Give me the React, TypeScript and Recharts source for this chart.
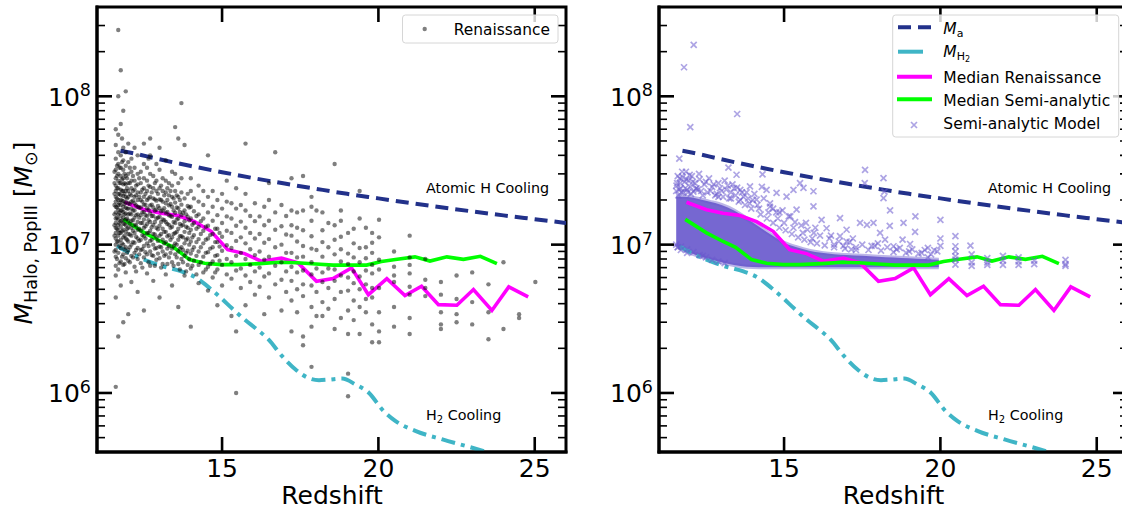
import React from "react";
import { ComposedChart, XAxis, YAxis, Scatter, Line, Area, ReferenceArea } from "recharts";

const FONT = "'DejaVu Sans', sans-serif";

const X_TICKS = [15, 20, 25];
const Y_MAJOR = [1e6, 1e7, 1e8];
const Y_MINOR = [5e5, 6e5, 7e5, 8e5, 9e5, 2e6, 3e6, 4e6, 5e6, 6e6, 7e6, 8e6, 9e6, 2e7, 3e7, 4e7, 5e7, 6e7, 7e7, 8e7, 9e7, 2e8, 3e8];

// plot box size (same in both panels)
const PLOT_TOP = 7;
const PLOT_W = 469;

// atomic cooling threshold M_a
const maZ = [11.75, 12, 13, 14, 15, 16, 17, 18, 19, 20, 21, 22, 23, 24, 25, 26];
const maMass = [4.3e7, 4.2e7, 3.76e7, 3.39e7, 3.08e7, 2.81e7, 2.58e7, 2.38e7, 2.2e7, 2.05e7, 1.91e7, 1.785e7, 1.675e7, 1.575e7, 1.485e7, 1.4e7];

// H2 cooling threshold
const mh2Z = [11.64, 12.0, 12.4, 13.1, 13.7, 14.1, 14.6, 15.0, 15.3, 15.74, 16.1, 16.49, 16.92, 17.35, 17.77, 18.1, 18.41, 18.84, 19.27, 19.7, 20.13, 20.55, 21.2, 22.05, 23.0, 24.0];
const mh2Mass = [9.8e6, 8.9e6, 8.1e6, 7.15e6, 6.6e6, 6.1e6, 5.1e6, 4.3e6, 3.75e6, 3.1e6, 2.7e6, 2.29e6, 1.77e6, 1.44e6, 1.26e6, 1.22e6, 1.23e6, 1.25e6, 1.14e6, 1.0e6, 7.7e5, 6.46e5, 5.53e5, 4.86e5, 4.27e5, 3.7e5];

const medRenZ = [11.88, 12.52, 13.05, 13.59, 14.12, 14.65, 15.18, 15.72, 16.25, 16.9, 17.43, 18.02, 18.55, 19.14, 19.68, 20.27, 20.85, 21.38, 21.92, 22.51, 23.04, 23.63, 24.17, 24.79];
const medRenMass = [1.93e7, 1.72e7, 1.63e7, 1.57e7, 1.43e7, 1.23e7, 9.25e6, 8.7e6, 7.73e6, 8.13e6, 7.53e6, 5.66e6, 5.9e6, 6.97e6, 4.6e6, 5.9e6, 4.54e6, 5.24e6, 3.94e6, 3.9e6, 4.98e6, 3.6e6, 5.19e6, 4.45e6];

const medSaZ = [11.84, 12.52, 13.05, 13.45, 13.96, 14.44, 14.97, 15.5, 16.2, 16.84, 17.4, 18.0, 18.55, 19.62, 20.1, 20.6, 21.17, 21.65, 22.19, 22.72, 23.26, 23.79];
const medSaMass = [1.48e7, 1.2e7, 1.05e7, 9.6e6, 7.93e6, 7.5e6, 7.33e6, 7.33e6, 7.45e6, 7.6e6, 7.55e6, 7.4e6, 7.28e6, 7.28e6, 7.7e6, 7.96e6, 8.27e6, 7.75e6, 8.27e6, 7.96e6, 8.35e6, 7.45e6];

// Renaissance halos, per snapshot redshift, masses in 1e6 Msun
const renZ = [
  11.6, 11.68, 11.76, 11.84, 11.92, 12.0, 12.1, 12.2, 12.3, 12.4, 12.5, 12.6, 12.7, 12.8, 12.9, 13.0, 13.1, 13.2, 13.3, 13.4,
  13.5, 13.6, 13.7, 13.8, 13.9, 14.0, 14.1, 14.25, 14.4, 14.55, 14.7, 14.85, 15.0, 15.15, 15.3, 15.45, 15.6, 15.75, 15.9, 16.05,
  16.2, 16.35, 16.5, 16.7, 16.9, 17.05, 17.22, 17.4, 17.59, 17.86, 18.02, 18.21, 18.4, 18.6, 18.8, 19.03, 19.21, 19.4, 19.6, 19.8,
  20.02, 20.5, 21.0, 21.5, 22.0, 22.5, 23.0, 23.52, 24.0, 24.5, 25.02,
];
const renMass = [
  [1.1, 4.4, 6.2, 7.2, 8.3, 9.2, 10, 11, 12, 13, 14, 15, 16.5, 18, 19.5, 21, 23, 25, 28, 32, 38, 47, 60],
  [2.4, 6.8, 8.8, 10.5, 11.5, 12.5, 13.6, 14.8, 16, 17.2, 18.5, 20, 22, 24, 27, 30, 35, 42, 55, 100, 280],
  [5.3, 7.7, 9.5, 10.8, 12, 13.2, 14.4, 15.6, 17, 18.5, 20, 21.5, 23.5, 26, 29, 33, 40, 65, 150],
  [3.0, 7.3, 8.6, 10, 11.2, 12.6, 13.9, 15.2, 16.6, 18, 19.6, 21.3, 23, 25.5, 28, 32, 37, 45, 80],
  [6.5, 8.1, 9.6, 11, 12.2, 13.5, 14.8, 16.2, 17.7, 19.3, 21, 23, 25.5, 29, 34, 42, 108],
  [3.4, 7.8, 9.2, 10.5, 11.8, 13, 14.5, 16, 17.5, 19, 21, 23, 26, 30, 36, 48],
  [5.6, 8.4, 10, 11.5, 13, 14.5, 16, 17.5, 19.5, 21.5, 24, 27, 31, 38],
  [7.1, 8.8, 10.3, 12, 13.6, 15.2, 17, 19, 21, 23.5, 27, 33, 45],
  [4.8, 8, 9.5, 11, 12.6, 14.2, 16, 18, 20, 22.5, 25.5, 30, 40],
  [7.5, 9.2, 10.8, 12.4, 14, 15.8, 17.8, 20, 22.5, 26, 31],
  [3.6, 8.2, 9.8, 11.4, 13, 14.8, 16.6, 18.6, 21, 24, 28, 35, 48],
  [6.4, 8.6, 10.2, 12, 13.8, 15.6, 17.6, 20, 23, 27, 33],
  [7.2, 9, 10.6, 12.4, 14.2, 16.2, 18.4, 21, 24.5, 30, 40, 52],
  [5.7, 8.4, 10, 11.8, 13.6, 15.6, 17.8, 20.5, 24, 29],
  [7.9, 9.5, 11.2, 13, 15, 17.2, 19.8, 23, 27, 35],
  [4.4, 8.1, 9.7, 11.5, 13.4, 15.4, 17.6, 20.2, 24, 32, 45],
  [7.4, 9, 10.8, 12.8, 14.8, 17, 19.5, 23, 28],
  [6.3, 8.6, 10.4, 12.2, 14.2, 16.4, 19, 22.5, 27, 37],
  [8.2, 9.8, 11.6, 13.6, 15.8, 18.4, 21.5, 26],
  [5.3, 7.6, 9.4, 11.2, 13.2, 15.4, 18, 21, 25, 31],
  [8.6, 10.2, 12, 14, 16.4, 19.2, 23, 30, 62],
  [3.8, 7.4, 9, 10.8, 12.8, 15, 17.6, 21, 26, 52],
  [8, 9.6, 11.4, 13.4, 15.8, 18.6, 22.5, 28, 90],
  [6.2, 8.4, 10.2, 12.2, 14.4, 17, 20.5, 47],
  [7.3, 9.1, 11, 13, 15.4, 18.2, 22],
  [2.8, 6.9, 8.7, 10.5, 12.6, 15, 18, 23, 28],
  [7.8, 9.6, 11.6, 14, 16.8, 20.5],
  [5.5, 7.3, 9, 10.9, 13.2, 16, 19.5, 25],
  [6.5, 8.3, 10.2, 12.4, 15, 18.5, 23],
  [4.9, 7.1, 8.9, 11, 13.4, 16.5, 21, 40],
  [6, 7.7, 9.6, 11.8, 14.5, 18, 23],
  [3.9, 6.8, 8.5, 10.4, 12.8, 15.8, 20],
  [5.3, 7.3, 9.1, 11.3, 14, 17.5, 22],
  [6.3, 8, 9.9, 12.4, 15.5, 19.5, 27],
  [3.3, 5.9, 7.6, 9.5, 12, 15, 19],
  [1.0, 2.6, 6.7, 8.4, 10.6, 13.4, 17.5, 24],
  [5.1, 6.9, 8.8, 11.2, 14.3, 18.5],
  [3.9, 6.2, 8, 10.2, 13, 17, 22, 48],
  [5.6, 7.3, 9.3, 12, 15.6],
  [4.6, 6.6, 8.5, 11, 14.4, 19],
  [5.2, 7, 9, 11.8, 15.5],
  [3.4, 6.1, 7.9, 10.3, 13.5, 18],
  [4.4, 6.4, 8.3, 10.9, 14.5, 20, 26],
  [5.4, 7.2, 9.6, 12.6, 16.5, 42],
  [3.6, 5.8, 7.6, 10, 13.3, 18.5],
  [4.8, 6.6, 8.8, 11.7, 15.6],
  [2.6, 4.2, 5.7, 7.1, 8.8, 11.5, 13.5, 17, 28],
  [3.5, 5, 6.5, 8.2, 10.5, 13, 16.5],
  [2.1, 2.4, 4.5, 5.4, 6.7, 8.3, 9.8, 12.5, 17, 29],
  [1.5, 2.8, 3.8, 5.3, 6.3, 7.6, 9.4, 11.4, 14.5, 18, 21],
  [3.3, 4.8, 6.9, 9.2, 17],
  [3.3, 4.1, 5.6, 6.5, 8.3, 10.4, 12.5, 16.5],
  [3.7, 5.1, 6.9, 9.6, 14],
  [2.7, 4.3, 5.7, 6.8, 8.6, 10.8, 13.5, 35],
  [3.2, 4.8, 6.2, 7.7, 9.3, 11.3, 14.5, 17],
  [0.95, 1.35, 2.5, 3.6, 4.9, 6, 7.4, 8.7, 12],
  [3.1, 4.2, 5.5, 6.6, 8.2, 10.2, 12.8],
  [2.5, 3.8, 5, 6.1, 7.6, 9.5, 15, 23],
  [3.5, 4.3, 5.4, 6.7, 8.1, 9.6, 13],
  [2.2, 2.9, 4.4, 5.1, 6.4, 7.3, 8.8, 10.3, 12],
  [2.2, 2.6, 3.5, 5.1, 6.8, 7.9, 11.2, 14.7],
  [2.8, 3.8, 5.6, 6.2, 7.1, 9],
  [2.5, 3.2, 4.6, 5.2, 6.4, 7.3, 8.2, 11.5],
  [4.5, 5.1, 5.8, 8],
  [2.7, 2.9, 3.5, 4.6, 5.6],
  [3, 3.4, 4.3, 6.2],
  [2.9, 4.1, 6.5],
  [2.3, 3.5, 5.4],
  [2.7, 7.6],
  [3.2, 3.4],
  [5.6],
];

// extra Renaissance snapshots in the crowded low-redshift part (1e6 Msun)
const renZLow = [
  11.56, 11.64, 11.72, 11.8, 11.88, 11.96, 12.05, 12.15, 12.25, 12.35, 12.45, 12.55, 12.65, 12.75, 12.85, 12.95, 13.05,
  13.15, 13.25, 13.35, 13.45, 13.55, 13.65, 13.75, 13.85, 13.95, 14.05, 14.18, 14.32, 14.48, 14.62, 14.78, 14.92,
];
const renMassLow = [
  [9, 11.5, 13.5, 16, 18.5, 22, 26, 31],
  [8, 10.5, 12.8, 15.2, 17.8, 20.5, 24, 29, 34],
  [7.5, 9.8, 12, 14, 16.4, 19, 22, 26, 33],
  [8.3, 10.2, 12.3, 14.6, 17, 19.8, 23, 27.5, 36, 52],
  [7.4, 9.3, 11.5, 13.8, 16, 18.8, 22, 26, 30],
  [8.8, 10.8, 12.8, 15, 17.5, 20.5, 24, 28],
  [7.6, 9.6, 11.7, 13.8, 16.2, 18.8, 22, 26, 33],
  [8.2, 10.4, 12.4, 14.6, 17, 19.8, 23, 29],
  [6.6, 9.2, 11.3, 13.4, 15.8, 18.4, 21.5, 25],
  [8.6, 10.6, 12.8, 15.2, 17.8, 21, 28],
  [7, 9.3, 11.6, 14, 16.5, 19.5, 23.5],
  [8.9, 11, 13.3, 15.8, 18.6, 22],
  [7.6, 9.8, 12, 14.6, 17.2, 20.5, 25, 38],
  [8.5, 10.8, 13.1, 15.6, 18.6, 22.5],
  [7.2, 9.4, 11.7, 14.2, 17, 20.2, 26],
  [8.7, 10.6, 12.7, 15.2, 18.2, 22],
  [7, 9.6, 11.8, 14.2, 16.8, 20, 25],
  [8.4, 10.2, 12.2, 14.6, 17.6, 21.5],
  [7.4, 9.4, 11.4, 13.8, 16.6, 20, 24],
  [8.8, 10.8, 13, 15.6, 18.8, 23],
  [7.2, 9.8, 11.8, 14.2, 17, 20.5],
  [8.2, 10, 12.2, 14.8, 17.8, 21.5],
  [6.8, 9.4, 11.4, 13.8, 16.6, 20],
  [7.6, 9.2, 11.2, 13.6, 16.4],
  [6.6, 8.8, 10.8, 13.2, 16],
  [8, 10, 12, 14.6, 17.8],
  [7.2, 9.2, 11.2, 13.6],
  [6.3, 8.4, 10.4, 12.8, 15.6],
  [7.6, 9.6, 11.8, 14.4],
  [6.8, 8.8, 10.8, 13.2],
  [7.4, 9.4, 11.6],
  [6.5, 8.4, 10.4, 12.8],
  [7.8, 9.7, 12],
];

// semi-analytic model: dense core of the distribution (1e6 Msun)
const saCoreZ = [11.55, 11.8, 12.2, 12.6, 13.0, 13.4, 13.8, 14.2, 14.6, 15.0, 15.4, 15.8, 16.2, 16.6, 17.0, 17.5, 18.0, 18.5, 19.0, 19.5, 19.95];
const saCoreLow = [9.9, 9.2, 8.5, 8.0, 7.6, 7.3, 7.1, 7.05, 7.05, 7.05, 7.05, 7.05, 7.05, 7.05, 7.05, 7.05, 7.05, 7.05, 7.05, 7.05, 7.05];
const saCoreHigh = [21, 21, 20.5, 19.5, 18.5, 17, 15, 13.2, 11.6, 10.3, 9.6, 9.1, 8.8, 8.6, 8.5, 8.4, 8.3, 8.2, 8.1, 8.0, 7.9];

// semi-analytic model: individual halos outside the core (1e6 Msun)
const saZ = [
  11.8, 12.11, 13.5, 12.0, 11.65, 11.55, 11.58, 11.62, 11.66, 11.7, 11.74, 11.78, 11.82, 11.86, 11.9, 11.95, 12.0, 12.05, 12.1, 12.15,
  12.2, 12.3, 12.35, 12.45, 12.55, 12.6, 12.7, 12.8, 12.9, 13.0, 13.1, 13.2, 13.22, 13.3, 13.4, 13.48, 13.5, 13.6, 13.7, 13.8,
  13.91, 14.0, 14.12, 14.29, 14.31, 14.44, 14.55, 14.65, 14.76, 14.85, 15.08, 15.2, 15.3, 15.4, 15.51, 15.62, 15.7, 15.94, 15.94, 16.0,
  16.2, 16.36, 16.5, 16.79, 16.79, 17.0, 17.0, 17.2, 17.43, 17.58, 17.59, 17.65, 17.86, 18.07, 18.18, 18.18, 18.21, 18.23, 18.38, 18.39,
  18.5, 18.79, 18.82, 19.19, 19.2, 19.6, 19.6, 19.8, 20.0, 20.0, 20.0, 20.48, 20.48, 20.48, 20.48, 20.48, 20.48, 20.96, 21.0, 21.0,
  21.0, 21.5, 21.5, 21.5, 22.0, 22.0, 22.0, 22.5, 22.5, 22.5, 23.0, 23.0, 24.0, 24.0, 24.0, 16.6, 17.3, 17.8, 18.0, 18.6,
  19.0, 19.4, 19.03, 17.15, 16.9, 15.9, 15.6, 15.3, 15.0, 14.8, 14.5, 14.2, 13.9, 13.6, 13.3, 12.9, 11.6, 11.7, 11.9, 12.4,
  12.25, 12.4, 12.5, 12.65, 12.75, 12.85, 12.95, 13.05, 13.15, 13.25, 13.35, 13.45, 13.55, 13.65, 13.75, 13.85, 13.95, 14.05, 14.15, 14.25,
  14.35, 14.45, 14.55, 14.65, 14.75, 14.85, 14.95, 15.05, 15.15, 15.25, 15.35, 15.45, 15.55, 15.65, 15.75, 15.85, 15.95, 16.05, 16.15, 16.3,
  16.45, 16.6, 16.75, 16.95, 17.1, 17.3, 17.5, 17.7, 17.9, 18.1, 18.3, 18.5, 18.7, 18.9, 19.1, 19.3, 19.5, 19.7, 19.9, 11.56,
  11.6, 11.64, 11.68, 11.72, 11.76, 11.84, 11.88, 11.92, 11.98, 12.02, 12.08, 12.18, 12.28, 11.55, 11.6, 11.7, 11.9, 12.1, 12.3, 12.5,
  12.7, 12.9, 13.1,
];
const saMass = [
  157, 222, 76, 62, 38, 23, 26, 21.5, 28, 24, 31, 22.5, 26.5, 31, 23.5, 27, 24.5, 29, 22.8, 26,
  24, 27.5, 23, 25.5, 22.5, 28, 24.5, 21.5, 26, 23, 27, 25, 33, 22.5, 24, 29.6, 24.2, 23.4, 21, 22.5,
  24.7, 20, 20.1, 24.5, 29.8, 23.4, 19, 17.5, 22.3, 16.5, 21.1, 15.5, 23.4, 17.2, 26, 24.1, 14, 22.9, 18.1, 13,
  14.7, 12.9, 11.5, 15.1, 11.4, 12.6, 10.5, 11, 14, 26, 31.9, 13.6, 14, 12, 28.1, 20.6, 22.8, 10.8, 13.4, 17,
  9.75, 10.8, 14, 12.2, 15.5, 8.2, 9.5, 9.2, 14.7, 11, 9.8, 11.4, 9.75, 9.0, 8.35, 7.93, 7.33, 9.85, 8.6, 7.6,
  7.2, 8.1, 7.6, 7.3, 8.4, 7.8, 7.3, 8.2, 7.7, 7.3, 7.8, 7.4, 7.9, 7.4, 7.2, 10, 9.6, 9.8, 10.2, 9.3,
  9.0, 8.8, 10.1, 9.3, 9.8, 11, 12, 13, 14, 15, 16.5, 17.5, 19, 20, 20.5, 21, 9.6, 9.2, 8.8, 8.4,
  23.5, 21.5, 26.5, 23, 25.5, 22, 24, 21, 23.5, 20.5, 25.5, 21.5, 19.5, 22.5, 18.5, 20.5, 17.5, 22, 18.5, 16,
  20.5, 15, 18, 14, 16.5, 13, 17, 12.5, 15.5, 11.8, 14.2, 11.2, 13.5, 10.8, 12.6, 10.4, 12, 10.2, 11.5, 9.9,
  11, 9.6, 10.5, 9.4, 10.4, 9.2, 10, 9.2, 9.8, 9.1, 9.6, 8.9, 9.5, 8.8, 9.3, 8.7, 9.2, 8.6, 9, 25,
  29, 23.5, 26, 22.5, 28.5, 24, 27.5, 22.5, 29.5, 22, 26.5, 23.8, 30, 10, 9.6, 9.7, 9.3, 8.9, 8.5, 8.2,
  7.9, 7.7, 7.5,
];

const maData = maZ.map((z, i) => ({ z, m: maMass[i] }));
const mh2Data = mh2Z.map((z, i) => ({ z, m: mh2Mass[i] }));
const medRenData = medRenZ.map((z, i) => ({ z, m: medRenMass[i] }));
const medSaData = medSaZ.map((z, i) => ({ z, m: medSaMass[i] }));
const renPoints = [
  ...renZ.flatMap((z, i) => renMass[i].map((m) => ({ z, m: m * 1e6 }))),
  ...renZLow.flatMap((z, i) => renMassLow[i].map((m) => ({ z, m: m * 1e6 }))),
];
const saCore = saCoreZ.map((z, i) => ({ z, r: [saCoreLow[i] * 1e6, saCoreHigh[i] * 1e6] }));
const saPoints = saZ.map((z, i) => ({ z, m: saMass[i] * 1e6 }));

const C_MA = "#22318a";
const C_H2 = "#3fb5c6";
const C_REN = "#ff00ff";
const C_SA = "#00ff00";
const C_SAM = "#6a5acd";

const isMajor = (v: number) => Y_MAJOR.includes(v);

// left axis tick: inward tick on both the left and the right frame, label on the left
const LeftTick = (props: any) => {
  const { x, y, payload } = props;
  const major = isMajor(payload.value);
  const len = major ? 15 : 8;
  const w = major ? 2.6 : 1.6;
  return (
    <g>
      <line x1={x} y1={y} x2={x + len} y2={y} stroke="#000" strokeWidth={w} />
      <line x1={x + PLOT_W} y1={y} x2={x + PLOT_W - len} y2={y} stroke="#000" strokeWidth={w} />
      {major && (
        <text x={x - 6} y={y + 9.5} textAnchor="end" fontFamily={FONT} fontSize={25} fill="#000">
          10
          <tspan dy={-9.5} fontSize={17.5}>
            {Math.round(Math.log10(payload.value))}
          </tspan>
        </text>
      )}
    </g>
  );
};

const BottomTick = (props: any) => {
  const { x, y, payload } = props;
  return (
    <g>
      <line x1={x} y1={y} x2={x} y2={y - 15} stroke="#000" strokeWidth={2.6} />
      <line x1={x} y1={PLOT_TOP} x2={x} y2={PLOT_TOP + 15} stroke="#000" strokeWidth={2.6} />
      <text x={x} y={y + 25} textAnchor="middle" fontFamily={FONT} fontSize={25} fill="#000">
        {payload.value}
      </text>
    </g>
  );
};

const Dot = (props: any) => <circle cx={props.cx} cy={props.cy} r={2.2} fill="#000" fillOpacity={0.5} />;

const Cross = (props: any) => {
  const { cx, cy } = props;
  return (
    <path
      d={`M${cx - 3},${cy - 3}L${cx + 3},${cy + 3}M${cx - 3},${cy + 3}L${cx + 3},${cy - 3}`}
      stroke={C_SAM}
      strokeOpacity={0.55}
      strokeWidth={1.7}
    />
  );
};

const axisLine = { stroke: "#000", strokeWidth: 3, strokeLinecap: "square" as const };

const Panel = ({ left, yAxisWidth, semi }: { left: number; yAxisWidth: number; semi: boolean }) => (
  <div style={{ position: "absolute", left, top: 0 }}>
    <ComposedChart width={yAxisWidth + PLOT_W + 4} height={510} margin={{ top: PLOT_TOP, right: 4, bottom: 0, left: 0 }}>
      <XAxis
        dataKey="z"
        type="number"
        domain={[11, 26]}
        ticks={X_TICKS}
        allowDataOverflow
        height={58}
        tickSize={0}
        tickMargin={0}
        tickLine={false}
        axisLine={axisLine}
        tick={BottomTick}
        interval={0}
      />
      <YAxis
        dataKey="m"
        type="number"
        scale="log"
        domain={[4e5, 4e8]}
        ticks={[...Y_MINOR, ...Y_MAJOR]}
        allowDataOverflow
        width={yAxisWidth}
        tickSize={0}
        tickMargin={0}
        tickLine={false}
        axisLine={axisLine}
        tick={LeftTick}
        interval={0}
      />
      {!semi && <Scatter data={renPoints} dataKey="m" shape={Dot} isAnimationActive={false} />}
      {semi && (
        <Area
          data={saCore}
          dataKey="r"
          type="monotone"
          fill={C_SAM}
          fillOpacity={0.92}
          stroke={C_SAM}
          strokeOpacity={0.45}
          strokeWidth={4}
          isAnimationActive={false}
        />
      )}
      {semi && <Scatter data={saPoints} dataKey="m" shape={Cross} isAnimationActive={false} />}
      <Line data={maData} dataKey="m" type="monotone" stroke={C_MA} strokeWidth={4} strokeDasharray="13 7" dot={false} isAnimationActive={false} />
      <Line data={mh2Data} dataKey="m" type="monotone" stroke={C_H2} strokeWidth={4} strokeDasharray="14 6 4 6" dot={false} isAnimationActive={false} />
      <Line data={medRenData} dataKey="m" type="linear" stroke={C_REN} strokeWidth={3.6} dot={false} isAnimationActive={false} />
      <Line data={medSaData} dataKey="m" type="linear" stroke={C_SA} strokeWidth={3.6} dot={false} isAnimationActive={false} />
      <ReferenceArea x1={11} x2={26} y1={4e5} y2={4e8} fill="none" stroke="#000" strokeWidth={3} ifOverflow="visible" />
    </ComposedChart>
  </div>
);

const Annotations = ({ x }: { x: number }) => (
  <g fontFamily={FONT} fill="#000">
    <text x={x} y={193} fontSize={14.3}>
      Atomic H Cooling
    </text>
    <text x={x} y={420} fontSize={14.3}>
      H
      <tspan fontSize={10} dy={3}>
        2
      </tspan>
      <tspan dy={-3}> Cooling</tspan>
    </text>
  </g>
);

export default function App() {
  return (
    <div style={{ position: "absolute", left: 0, top: 0, width: 1122, height: 510, overflow: "hidden", background: "#fff" }}>
      <Panel left={0} yAxisWidth={97} semi={false} />
      <Panel left={560} yAxisWidth={99} semi={true} />
      <svg width={1122} height={510} style={{ position: "absolute", left: 0, top: 0, pointerEvents: "none" }}>
        <g fontFamily={FONT} fill="#000">
          <text transform="translate(32, 233) rotate(-90)" textAnchor="middle" fontSize={25}>
            <tspan fontStyle="italic">M</tspan>
            <tspan fontSize={17.5} dy={5}>
              Halo, PopIII
            </tspan>
            <tspan dy={-5}>{"\u00a0["}</tspan>
            <tspan fontStyle="italic">M</tspan>
            <tspan fontSize={17.5} dy={5}>
              ⊙
            </tspan>
            <tspan dy={-5}>]</tspan>
          </text>
          <text x={332} y={504} textAnchor="middle" fontSize={25}>
            Redshift
          </text>
          <text x={893.5} y={504} textAnchor="middle" fontSize={25}>
            Redshift
          </text>
        </g>
        <Annotations x={426} />
        <Annotations x={988} />

        {/* left legend */}
        <rect x={402.5} y={15} width={155.5} height={28} rx={3} fill="#fff" fillOpacity={0.8} stroke="#d6d6d6" />
        <circle cx={424.7} cy={29} r={2.2} fill="#000" fillOpacity={0.5} />
        <text x={453.8} y={34.5} fontFamily={FONT} fontSize={15.4} fill="#000">
          Renaissance
        </text>

        {/* right legend */}
        <rect x={892.7} y={15} width={226} height={122} rx={3} fill="#fff" fillOpacity={0.8} stroke="#d6d6d6" />
        <line x1={898} y1={27.3} x2={931} y2={27.3} stroke={C_MA} strokeWidth={4} strokeDasharray="13 7" />
        <line x1={898} y1={51.7} x2={923} y2={51.7} stroke={C_H2} strokeWidth={4} />
        <line x1={897} y1={76.7} x2={932} y2={76.7} stroke={C_REN} strokeWidth={4} />
        <line x1={897} y1={99.3} x2={932} y2={99.3} stroke={C_SA} strokeWidth={4} />
        <path d="M911,122L917,128M911,128L917,122" stroke={C_SAM} strokeOpacity={0.55} strokeWidth={1.7} />
        <g fontFamily={FONT} fontSize={15.5} fill="#000">
          <text x={943.3} y={34}>
            <tspan fontStyle="italic">M</tspan>
            <tspan fontSize={11} dy={3}>
              a
            </tspan>
          </text>
          <text x={943.3} y={56.7}>
            <tspan fontStyle="italic">M</tspan>
            <tspan fontSize={11} dy={3}>
              H
            </tspan>
            <tspan fontSize={8} dy={2}>
              2
            </tspan>
          </text>
          <text x={943.3} y={83.3}>
            Median Renaissance
          </text>
          <text x={943.3} y={105.5}>
            Median Semi-analytic
          </text>
          <text x={943.3} y={129.3}>
            Semi-analytic Model
          </text>
        </g>
      </svg>
    </div>
  );
}
